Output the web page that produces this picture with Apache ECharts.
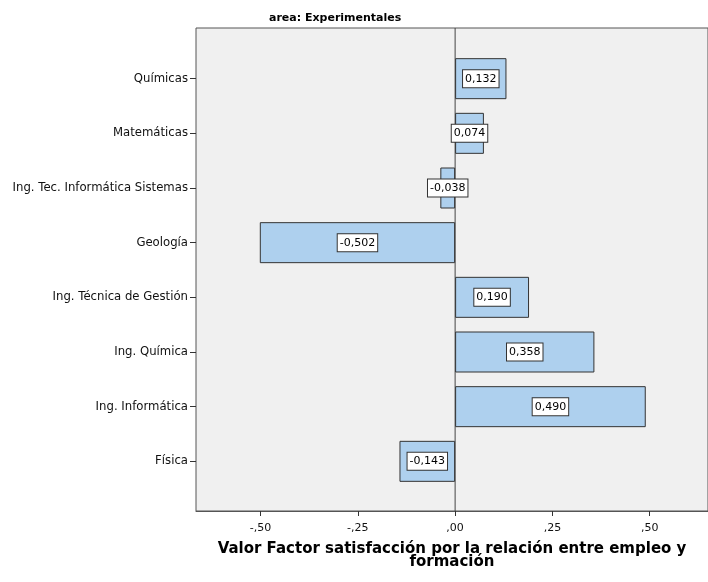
<!DOCTYPE html>
<html><head><meta charset="utf-8">
<script src="https://cdn.jsdelivr.net/npm/echarts@6/dist/echarts.min.js"></script>
<style>html,body{margin:0;padding:0;background:#fff}#c{width:708px;height:582px}</style>
</head><body><div id="c"></div>
<script>
const categories = ['Químicas','Matemáticas','Ing. Tec. Informática Sistemas','Geología','Ing. Técnica de Gestión','Ing. Química','Ing. Informática','Física'];
const values = [0.132, 0.074, -0.038, -0.502, 0.190, 0.358, 0.490, -0.143];
const xTicks = [-0.5, -0.25, 0, 0.25, 0.5];
const zeroLine = [[0, 0], [0, 1]];
const chartTitle = 'area: Experimentales';
const xTitle = 'Valor Factor satisfacción por la relación entre empleo y\nformación';

const FONT = 'DejaVu Sans, Verdana, sans-serif';
const cats = [''].concat(categories, ['']);
const vals = ['-'].concat(values, ['-']);
const fmtTick = v => { let s = Math.abs(v).toFixed(2).replace(/^0\./, ','); return (v < 0 ? '-' : '') + s; };
const fmtVal = v => v.toFixed(3).replace('.', ',');
const XMIN = -0.666, XMAX = 0.65;

const chart = echarts.init(document.getElementById('c'), null, {renderer: 'canvas'});
chart.setOption({
  animation: false,
  backgroundColor: '#ffffff',
  textStyle: {fontFamily: FONT},
  title: {
    text: chartTitle, left: 264, top: 8,
    textStyle: {fontSize: 11, fontWeight: 'bold', color: '#000', fontFamily: FONT}
  },
  grid: [
    {left: 196, right: 0, top: 24, bottom: 66, show: false},
    {left: 196, right: 0, top: 28, bottom: 71, show: true, backgroundColor: '#f0f0f0', borderColor: '#555', borderWidth: 1}
  ],
  xAxis: [
    {gridIndex: 0, type: 'value', min: XMIN, max: XMAX, show: false},
    {
      gridIndex: 1, type: 'value', min: XMIN, max: XMAX,
      axisLine: {show: true, lineStyle: {color: '#555'}},
      splitLine: {show: false},
      axisTick: {show: true, customValues: xTicks, length: 5, lineStyle: {color: '#333'}},
      axisLabel: {show: true, customValues: xTicks, formatter: fmtTick, fontSize: 11, color: '#111', margin: 12, fontFamily: FONT},
      name: xTitle, nameLocation: 'middle', nameGap: 32,
      nameTextStyle: {fontSize: 15, fontWeight: 'bold', color: '#000', lineHeight: 13, fontFamily: FONT}
    }
  ],
  yAxis: [
    {
      gridIndex: 0, type: 'category', data: cats, inverse: true, boundaryGap: false,
      axisLine: {show: false, onZero: false},
      axisTick: {show: true, length: 6, lineStyle: {color: '#333'}, interval: (i, v) => v !== ''},
      axisLabel: {fontSize: 11.7, color: '#111', margin: 8, interval: 0, fontFamily: FONT},
      splitLine: {show: false}
    },
    {gridIndex: 1, type: 'value', min: 0, max: 1, show: false}
  ],
  series: [
    {
      type: 'bar', xAxisIndex: 0, yAxisIndex: 0, data: vals, barWidth: 41, z: 3,
      itemStyle: {color: '#aed0ee', borderColor: '#333', borderWidth: 1},
      label: {
        show: true, position: 'inside', formatter: p => fmtVal(p.value),
        color: '#000', fontSize: 11, fontFamily: FONT, backgroundColor: '#fff', borderColor: '#333', borderWidth: 1, padding: [3, 2, 3, 2]
      }
    },
    {
      type: 'line', xAxisIndex: 1, yAxisIndex: 1, data: zeroLine, symbol: 'none', silent: true, z: 2,
      lineStyle: {color: '#444', width: 1}
    }
  ]
});
</script></body></html>
